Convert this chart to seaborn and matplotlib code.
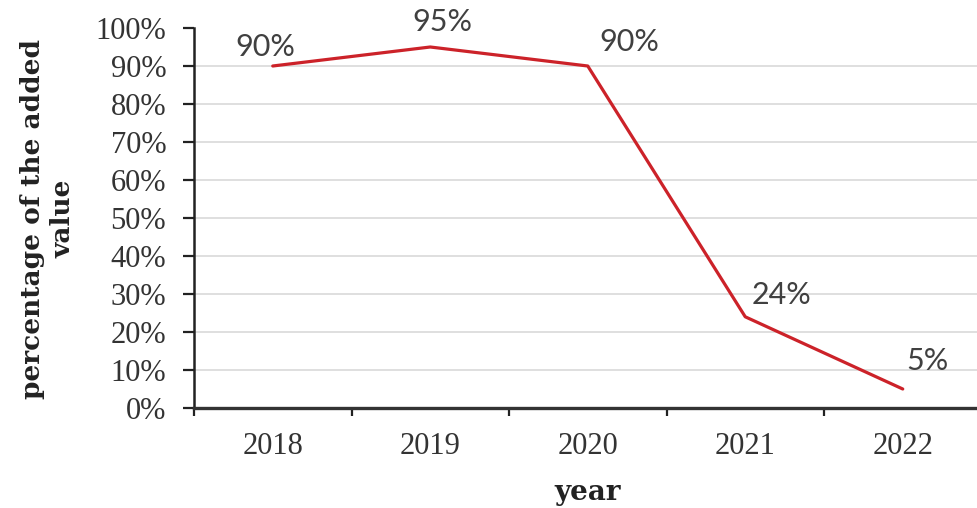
import matplotlib
matplotlib.use("Agg")
import matplotlib.pyplot as plt
import seaborn as sns
import pandas as pd
from matplotlib.ticker import FuncFormatter

years = ["2018", "2019", "2020", "2021", "2022"]
values = [90, 95, 90, 24, 5]
labels = ["90%", "95%", "90%", "24%", "5%"]

sns.set_style("white")
plt.rcParams['font.family'] = ['Liberation Serif', 'DejaVu Serif']
plt.rcParams['xtick.bottom'] = True
plt.rcParams['ytick.left'] = True

df = pd.DataFrame({"year": years, "value": values})

fig = plt.figure(figsize=(9.77, 5.08), dpi=100)
ax = fig.add_axes([194/977, 100/508, 787.5/977, 380/508])

sns.lineplot(data=df, x="year", y="value", ax=ax, color="#CC2229", linewidth=2.3, sort=False)

ax.set_ylim(0, 100)
ax.set_xlim(-0.5, 4.5)
ax.set_yticks(range(0, 101, 10))
ax.yaxis.set_major_formatter(FuncFormatter(lambda v, p: f"{int(v)}%"))
ax.yaxis.grid(True, color="#d9d9d9", linewidth=1.2)
ax.set_axisbelow(True)
ax.get_ygridlines()[-1].set_visible(False)

ax.set_xticks([i - 0.5 for i in range(len(years) + 1)])
ax.set_xticklabels([""] * (len(years) + 1))
ax.set_xticks(range(len(years)), labels=years, minor=True)
ax.tick_params(axis="x", which="major", direction="out", length=6, width=1.6, color="#222222", bottom=True)
ax.tick_params(axis="x", which="minor", length=0, pad=17, labelsize=22, labelcolor="#333333")
ax.tick_params(axis="y", direction="out", length=8, width=1.6, color="#222222", labelsize=22,
               labelcolor="#333333", pad=12, left=True)

for s in ["top", "right"]:
    ax.spines[s].set_visible(False)
ax.spines["left"].set_color("#222222")
ax.spines["left"].set_linewidth(1.8)
ax.spines["bottom"].set_color("#333333")
ax.spines["bottom"].set_linewidth(2.4)

offsets = [(-5, 14), (9, 18), (30, 17), (26, 16), (18, 20)]
for i, (v, lab) in enumerate(zip(values, labels)):
    ax.annotate(lab, (i, v), xytext=offsets[i], textcoords="offset points",
                ha="center", va="center", fontsize=22, color="#404040",
                family="Lato")

ax.set_xlabel("")
ax.set_ylabel("")
fig.text(588/977, 1 - 493/508, "year", ha="center", va="center", fontsize=20,
         fontweight="bold", color="#222222", family="DejaVu Serif")
fig.text(48/977, 1 - 219/508, "percentage of the added\nvalue", ha="center", va="center",
         rotation=90, fontsize=19, fontweight="bold", color="#222222", linespacing=1.25,
         family="DejaVu Serif")

fig.savefig("out.png", dpi=100)
